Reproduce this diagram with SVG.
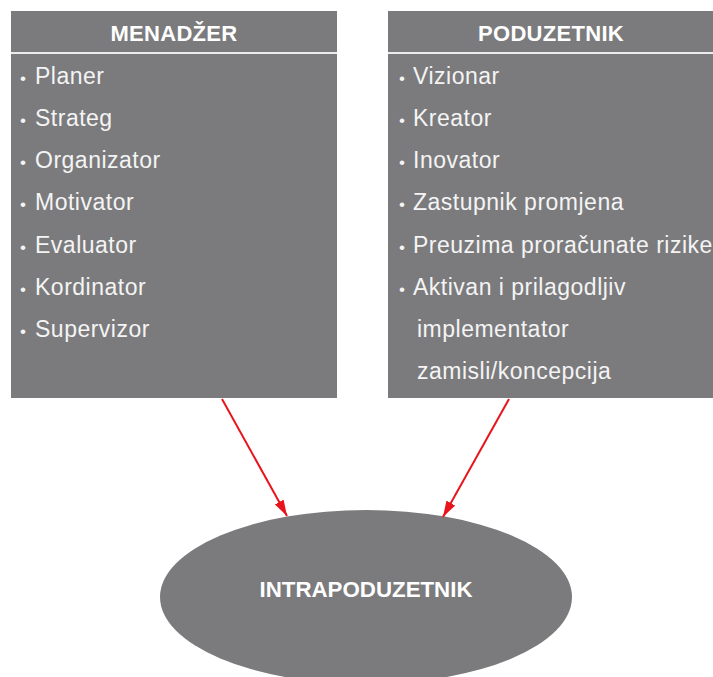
<svg xmlns="http://www.w3.org/2000/svg" width="713" height="677" viewBox="0 0 713 677">
<style>
.box{fill:#7b7b7d;}
.sep{stroke:#ececec;stroke-width:2;}
.hdr{font-family:"Liberation Sans",Arial,sans-serif;font-weight:bold;font-size:22px;letter-spacing:0.3px;fill:#fff;text-anchor:middle;}
.item{font-family:"Liberation Sans",Arial,sans-serif;font-size:23px;letter-spacing:0.5px;fill:#f4f4f4;}
.bul{font-size:17px;letter-spacing:0;}
.conn{stroke:#e8141c;stroke-width:2;fill:none;marker-end:url(#ah);}
</style>
<defs>
<marker id="ah" viewBox="0 0 16 10" refX="16" refY="5" markerWidth="16" markerHeight="10" markerUnits="userSpaceOnUse" orient="auto">
<path d="M0,0 L16,5 L0,10 z" fill="#e8141c"/>
</marker>
</defs>
<rect width="713" height="677" fill="#fff"/>
<g id="menadzer">
<rect class="box" x="11" y="11" width="326" height="387"/>
<line class="sep" x1="11" y1="53" x2="337" y2="53"/>
<text class="hdr" x="174" y="41">MENADŽER</text>
<text class="item" y="84"><tspan class="bul" x="20">•</tspan><tspan x="35">Planer</tspan></text>
<text class="item" y="126"><tspan class="bul" x="20">•</tspan><tspan x="35">Strateg</tspan></text>
<text class="item" y="168"><tspan class="bul" x="20">•</tspan><tspan x="35">Organizator</tspan></text>
<text class="item" y="210"><tspan class="bul" x="20">•</tspan><tspan x="35">Motivator</tspan></text>
<text class="item" y="253"><tspan class="bul" x="20">•</tspan><tspan x="35">Evaluator</tspan></text>
<text class="item" y="295"><tspan class="bul" x="20">•</tspan><tspan x="35">Kordinator</tspan></text>
<text class="item" y="337"><tspan class="bul" x="20">•</tspan><tspan x="35">Supervizor</tspan></text>
</g>
<g id="poduzetnik">
<rect class="box" x="388" y="11" width="325" height="387"/>
<line class="sep" x1="388" y1="53" x2="713" y2="53"/>
<text class="hdr" x="551" y="41">PODUZETNIK</text>
<text class="item" y="84"><tspan class="bul" x="399">•</tspan><tspan x="413">Vizionar</tspan></text>
<text class="item" y="126"><tspan class="bul" x="399">•</tspan><tspan x="413">Kreator</tspan></text>
<text class="item" y="168"><tspan class="bul" x="399">•</tspan><tspan x="413">Inovator</tspan></text>
<text class="item" y="210"><tspan class="bul" x="399">•</tspan><tspan x="413">Zastupnik promjena</tspan></text>
<text class="item" y="253"><tspan class="bul" x="399">•</tspan><tspan x="413">Preuzima proračunate rizike</tspan></text>
<text class="item" y="295"><tspan class="bul" x="399">•</tspan><tspan x="413">Aktivan i prilagodljiv</tspan></text>
<text class="item" x="417" y="337">implementator</text>
<text class="item" x="417" y="379">zamisli/koncepcija</text>
</g>
<g id="intrapoduzetnik">
<ellipse class="box" cx="366" cy="597" rx="206" ry="87"/>
<text class="hdr" x="366" y="597" style="font-size:22.3px;letter-spacing:0">INTRAPODUZETNIK</text>
</g>
<g id="connectors">
<line class="conn" x1="222" y1="399" x2="287" y2="516"/>
<line class="conn" x1="509" y1="399" x2="443" y2="517"/>
</g>
</svg>
